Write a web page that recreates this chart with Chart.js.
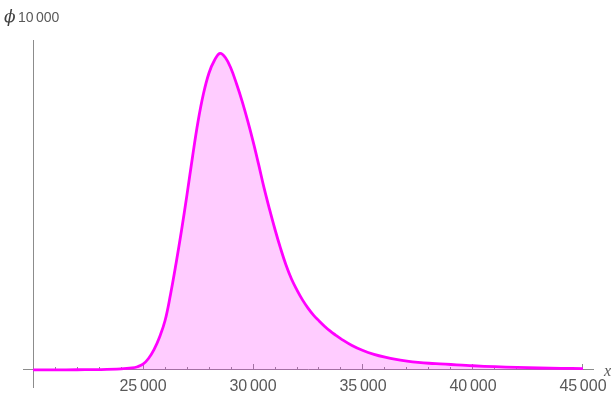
<!DOCTYPE html>
<html>
<head>
<meta charset="utf-8">
<script src="https://cdn.jsdelivr.net/npm/chart.js@4/dist/chart.umd.min.js"></script>
<style>
  html, body { margin: 0; padding: 0; background: #fff; }
  #wrap { width: 611px; height: 395px; position: relative; }
</style>
</head>
<body>
<div id="wrap"><canvas id="chart"></canvas></div>
<script>
// x values (sample points)
const xValues = [
  20000, 21000, 22000, 23000, 24000, 24500, 24750, 25000, 25250, 25500,
  25750, 26000, 26250, 26500, 26750, 27000, 27250, 27500, 27750, 28000,
  28250, 28500, 28750, 29000, 29250, 29500, 29750, 30000, 30250, 30500,
  30750, 31000, 31250, 31500, 31750, 32000, 32250, 32500, 32750, 33000,
  33250, 33500, 33750, 34000, 34500, 35000, 35500, 36000, 36500, 37000,
  37500, 38000, 38500, 39000, 39500, 40000, 41000, 42000, 43000, 44000,
  45000
]

// phi_10000 density, scaled so the peak is about 1
const phiValues = [
  0, 0, 0.0005, 0.001, 0.003, 0.006, 0.01, 0.018, 0.036, 0.064,
  0.103, 0.155, 0.238, 0.335, 0.44, 0.553, 0.672, 0.783, 0.872, 0.937,
  0.977, 0.999, 0.985, 0.951, 0.903, 0.849, 0.788, 0.722, 0.65, 0.575,
  0.507, 0.443, 0.384, 0.331, 0.287, 0.252, 0.221, 0.195, 0.173, 0.155,
  0.138, 0.123, 0.11, 0.098, 0.077, 0.061, 0.049, 0.04, 0.033, 0.028,
  0.024, 0.021, 0.019, 0.017, 0.015, 0.013, 0.010, 0.008, 0.006, 0.005,
  0.004
]

// labelled ticks on the x axis
const majorTicks = [25000, 30000, 35000, 40000, 45000]
// small unlabelled ticks
const minorTicks = [
  21000, 22000, 23000, 24000, 26000, 27000, 28000, 29000, 31000, 32000,
  33000, 34000, 36000, 37000, 38000, 39000, 41000, 42000, 43000, 44000
]

const xMin = 19545
const xMax = 45455
const yMin = -0.054
const yMax = 1.041

const axisColor = '#8c8c8c'
const labelColor = '#595959'

const formatTick = function (v) {
  const s = String(v)
  return s.slice(0, s.length - 3) + '\u2006' + s.slice(s.length - 3)
}

const setTicks = function (values) {
  return function (scale) {
    scale.ticks = values.map(v => ({ value: v }))
  }
}

// keep the plot area fixed, labels may overhang
const noPadding = function (scale) {
  scale.paddingLeft = 0
  scale.paddingRight = 0
  scale.paddingTop = 0
  scale.paddingBottom = 0
}

// Axis labels: phi with subscript at the top, x at the right end
const axisLabels = {
  id: 'axisLabels',
  afterDraw (chart) {
    const ctx = chart.ctx
    ctx.save()
    ctx.fillStyle = '#404040'
    ctx.textBaseline = 'alphabetic'
    ctx.textAlign = 'left'
    ctx.font = 'italic 17px "DejaVu Serif"'
    ctx.fillText('\u03d5', 4, 22)
    ctx.font = '14px "Liberation Sans"'
    ctx.fillStyle = labelColor
    ctx.fillText('10\u2006000', 18, 22)
    ctx.font = 'italic 16px "Liberation Serif"'
    ctx.fillText('x', 604, 376)
    ctx.restore()
  }
}

const points = xValues.map((x, i) => ({ x, y: phiValues[i] }))

const ctx = document.getElementById('chart').getContext('2d')
const chart = new Chart(ctx, {
  type: 'line',
  data: {
    datasets: [
      {
        data: points,
        borderColor: '#ff00ff',
        borderWidth: 2.8,
        backgroundColor: 'rgba(255, 0, 255, 0.2)',
        fill: 'origin',
        pointRadius: 0,
        tension: 0.4
      }
    ]
  },
  options: {
    responsive: true,
    maintainAspectRatio: false,
    animation: false,
    layout: {
      padding: { left: 23, top: 40, right: 18, bottom: 8 }
    },
    plugins: {
      legend: { display: false },
      tooltip: { enabled: false }
    },
    scales: {
      // major ticks, with labels
      x: {
        type: 'linear',
        min: xMin,
        max: xMax,
        position: { y: 0 },
        afterBuildTicks: setTicks(majorTicks),
        afterFit: noPadding,
        border: { display: true, color: axisColor, width: 1 },
        grid: { drawOnChartArea: false, drawTicks: true, tickLength: -6, color: axisColor },
        ticks: {
          autoSkip: false,
          maxRotation: 0,
          padding: 13,
          color: labelColor,
          font: { family: 'Liberation Sans', size: 16 },
          callback: formatTick
        }
      },
      // minor ticks
      x2: {
        type: 'linear',
        axis: 'x',
        min: xMin,
        max: xMax,
        position: { y: 0 },
        afterBuildTicks: setTicks(minorTicks),
        afterFit: noPadding,
        border: { display: false },
        grid: { drawOnChartArea: false, drawTicks: true, tickLength: -3, color: axisColor },
        ticks: { autoSkip: false, display: false, maxRotation: 0 }
      },
      y: {
        type: 'linear',
        min: yMin,
        max: yMax,
        position: { x: 20000 },
        afterFit: noPadding,
        border: { display: true, color: axisColor, width: 1 },
        grid: { display: false, drawTicks: false },
        ticks: { display: false }
      }
    }
  },
  plugins: [axisLabels]
})
</script>
</body>
</html>
